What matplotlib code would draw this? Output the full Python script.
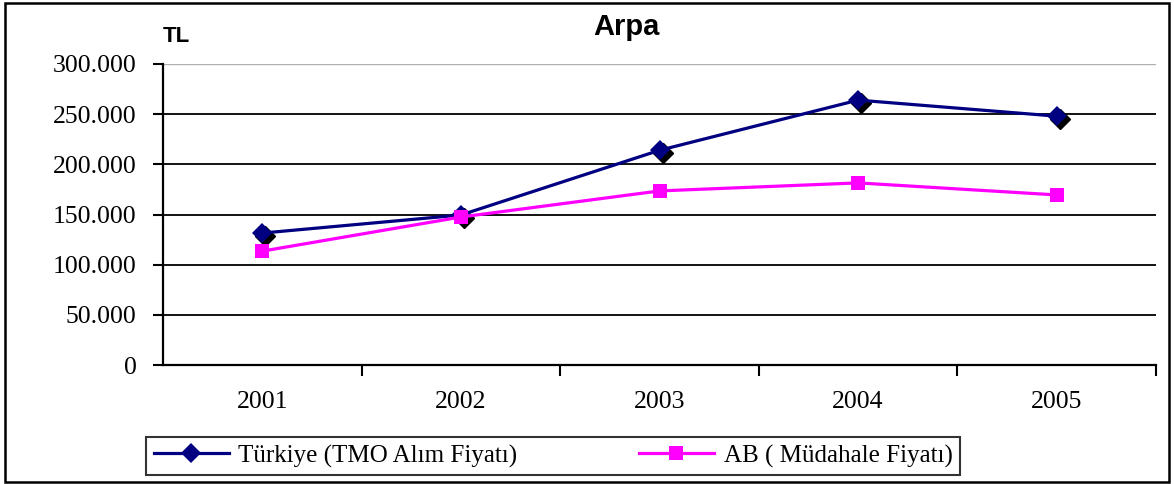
import matplotlib
matplotlib.use('Agg')
import matplotlib.pyplot as plt
import matplotlib.transforms as mtransforms
from matplotlib.patches import Rectangle
from matplotlib.ticker import FixedLocator, FuncFormatter

# values
years = ['2001', '2002', '2003', '2004', '2005']
turkiye = [131500, 149500, 214000, 264000, 248000]
ab = [113500, 147500, 173500, 181500, 169500]
y_ticks = [0, 50000, 100000, 150000, 200000, 250000, 300000]

label_tr = 'Türkiye (TMO Alım Fiyatı)'
label_ab = 'AB ( Müdahale Fiyatı)'

SERIF = 'Liberation Serif'
SANS = 'Liberation Sans'

fig = plt.figure(figsize=(11.74, 4.84), dpi=100)
ax = fig.add_axes([163 / 1174, 1 - 365 / 484, 993 / 1174, 301 / 484])

x = list(range(len(years)))

# dark shadow under the diamonds
shadow = mtransforms.offset_copy(ax.transData, fig=fig, x=3, y=-3, units='dots')
ax.plot(x, turkiye, linestyle='none', marker='D', markersize=10,
        color='black', transform=shadow, zorder=3)
ax.plot(x, turkiye, color='#000080', linewidth=2.3, marker='D', markersize=10,
        markeredgewidth=0, label=label_tr, zorder=4)
ax.plot(x, ab, color='#FF00FF', linewidth=2.3, marker='s', markersize=9.5,
        markeredgewidth=0, label=label_ab, zorder=5)

ax.set_xlim(-0.5, len(years) - 0.5)
ax.set_ylim(0, 300000)

ax.set_yticks(y_ticks)
ax.yaxis.set_major_formatter(FuncFormatter(lambda v, p: f'{int(v):,}'.replace(',', '.')))
ax.tick_params(axis='y', direction='out', length=7, width=1.5, pad=12,
               labelsize=18.5, colors='black')
for t in ax.get_yticklabels():
    t.set_fontfamily(SERIF)

ax.set_xticks(x)
ax.set_xticklabels(years, fontfamily=SERIF, fontsize=18.5)
ax.xaxis.set_minor_locator(FixedLocator([i + 0.5 for i in x]))
ax.tick_params(axis='x', which='major', length=0, pad=19)
ax.tick_params(axis='x', which='minor', direction='out', length=8, width=1.5)

ax.yaxis.grid(True, color='black', linewidth=1.3)
ax.get_ygridlines()[-1].set_color('#b0b0b0')
ax.get_ygridlines()[-1].set_linewidth(1.0)
ax.set_axisbelow(True)

for side in ['top', 'right']:
    ax.spines[side].set_visible(False)
for side in ['left', 'bottom']:
    ax.spines[side].set_linewidth(1.6)
    ax.spines[side].set_color('black')

fig.text(626 / 1174, 1 - 27 / 484, 'Arpa', ha='center', va='center',
         fontfamily=SANS, fontweight='bold', fontsize=21)
fig.text(163 / 1174, 1 - 37 / 484, 'TL', ha='left', va='center',
         fontfamily=SANS, fontweight='bold', fontsize=16)

leg = fig.legend(loc='lower left', ncol=2, mode='expand',
                 bbox_to_anchor=(146 / 1174, 1 - 475 / 484, 814 / 1174, 42 / 484),
                 prop={'family': SERIF, 'size': 18}, frameon=True, fancybox=False,
                 handlelength=3.0, handletextpad=0.4, borderpad=0.3,
                 borderaxespad=0, columnspacing=1.5)
leg.get_frame().set_edgecolor('black')
leg.get_frame().set_linewidth(1.5)

# outer border of the chart
fig.patches.append(Rectangle((5 / 1174, 2 / 484), 1164 / 1174, 479 / 484,
                             transform=fig.transFigure, fill=False,
                             edgecolor='black', linewidth=1.8))

fig.savefig('out.png', dpi=100)
